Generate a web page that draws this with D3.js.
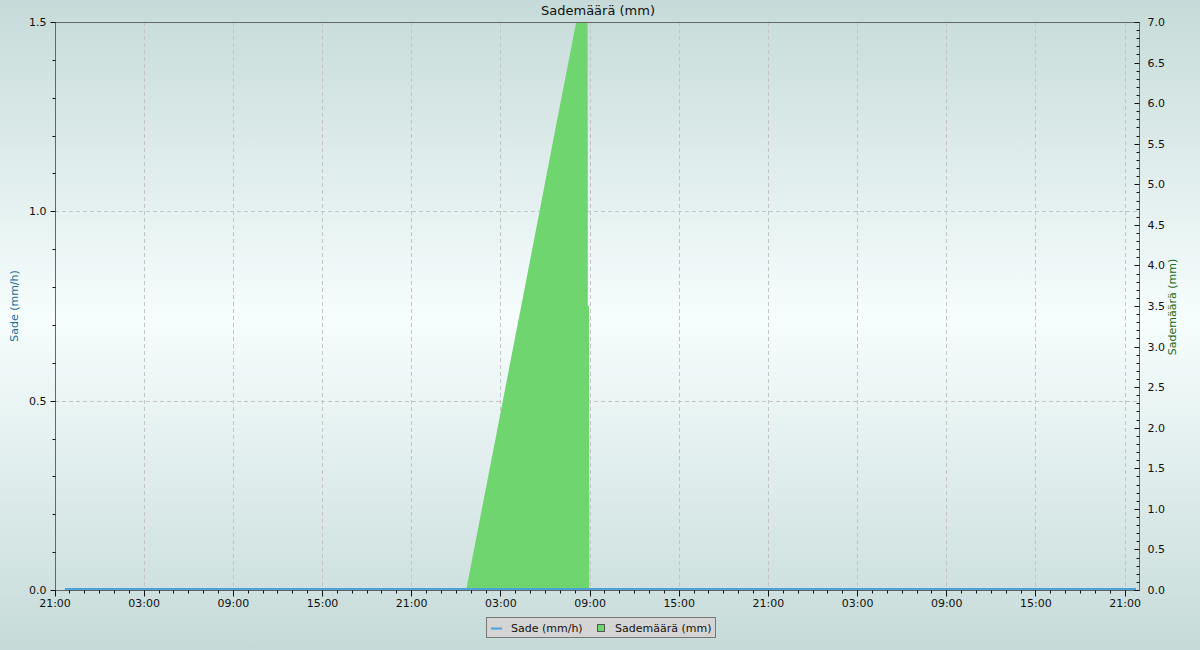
<!DOCTYPE html>
<meta charset="utf-8">
<style>
  body { margin: 0; }
  text { font-family: "DejaVu Sans", sans-serif; font-size: 11px; fill: #111; }
  .title { font-size: 13px; text-anchor: middle; }
  .grid line { stroke: #c4c4c4; stroke-dasharray: 4,3; }
</style>
<script src="https://cdn.jsdelivr.net/npm/d3@7"></script>
<body>
<script>
  var w = 1200, h = 650;
  var pLeft = 55, pRight = 1139, pTop = 22, pBottom = 590;

  var parse = d3.timeParse("%Y-%m-%d %H:%M");
  var domainStart = "2024-01-01 21:00";
  var domainEnd = "2024-01-04 21:56";

  // Sade (mm/h) - stays at zero the whole period
  var rateTimes = ["2024-01-01 21:40", "2024-01-02 21:00", "2024-01-03 21:00", "2024-01-04 21:44"];
  var rateValues = [0, 0, 0, 0];

  // Sademäärä (mm) - cumulative
  var sumTimes = ["2024-01-01 21:40", "2024-01-03 00:40", "2024-01-03 01:40", "2024-01-03 02:40",
                  "2024-01-03 03:40", "2024-01-03 04:40", "2024-01-03 05:40", "2024-01-03 06:40",
                  "2024-01-03 07:40", "2024-01-03 08:40", "2024-01-03 08:50", "2024-01-03 08:51",
                  "2024-01-03 08:56", "2024-01-03 08:57", "2024-01-04 21:44"];
  var sumValues = [0, 0, 0.95, 1.89, 2.84, 3.78, 4.73, 5.68, 6.62, 7.57, 7.74, 3.5, 3.5, 0, 0];

  var leftTicks = [0, 0.5, 1.0, 1.5];
  var rightTicks = [0, 0.5, 1, 1.5, 2, 2.5, 3, 3.5, 4, 4.5, 5, 5.5, 6, 6.5, 7];

  var svg = d3.select("body").append("svg").attr("width", w).attr("height", h);

  var defs = svg.append("defs");
  var grad = defs.append("linearGradient")
    .attr("id", "bg").attr("x1", 0).attr("y1", 0).attr("x2", 0).attr("y2", 1);
  grad.append("stop").attr("offset", "0%").attr("stop-color", "#c6dbd9");
  grad.append("stop").attr("offset", "49%").attr("stop-color", "#f6fdfd");
  grad.append("stop").attr("offset", "100%").attr("stop-color", "#c6dbd9");
  defs.append("clipPath").attr("id", "plot")
    .append("rect").attr("x", pLeft).attr("y", pTop).attr("width", pRight - pLeft).attr("height", pBottom - pTop);

  svg.append("rect").attr("width", w).attr("height", h).attr("fill", "url(#bg)");

  var x = d3.scaleTime().domain([parse(domainStart), parse(domainEnd)]).range([pLeft, pRight]);
  var yL = d3.scaleLinear().domain([0, 1.5]).range([pBottom, pTop]);
  var yR = d3.scaleLinear().domain([0, 7]).range([pBottom, pTop]);

  var hours = x.ticks(d3.timeHour.every(1));
  var majors = hours.filter(function (d) { return d.getHours() % 6 === 3; });

  // grid
  var grid = svg.append("g").attr("class", "grid");
  grid.selectAll(".v").data(majors.filter(function (d) { return x(d) > pLeft + 1; }))
    .enter().append("line")
    .attr("x1", function (d) { return Math.floor(x(d)) + 0.5; })
    .attr("x2", function (d) { return Math.floor(x(d)) + 0.5; })
    .attr("y1", pTop).attr("y2", pBottom);
  grid.selectAll(".h").data([0.5, 1.0])
    .enter().append("line")
    .attr("x1", pLeft).attr("x2", pRight)
    .attr("y1", function (d) { return Math.round(yL(d)) + 0.5; })
    .attr("y2", function (d) { return Math.round(yL(d)) + 0.5; });

  // cumulative area
  var sumData = sumTimes.map(function (t, i) { return { t: parse(t), v: sumValues[i] }; });
  svg.append("path").datum(sumData)
    .attr("clip-path", "url(#plot)")
    .attr("fill", "#6fd66f")
    .attr("d", d3.area().x(function (d) { return x(d.t); }).y0(yR(0)).y1(function (d) { return yR(d.v); }));

  // rate line
  var rateData = rateTimes.map(function (t, i) { return { t: parse(t), v: rateValues[i] }; });
  svg.append("path").datum(rateData)
    .attr("fill", "none").attr("stroke", "#4aa2d8").attr("stroke-width", 2)
    .attr("transform", "translate(0,-1)")
    .attr("d", d3.line().x(function (d) { return x(d.t); }).y(function (d) { return yL(d.v); }));

  // frame
  svg.append("rect").attr("x", pLeft + 0.5).attr("y", pTop + 0.5)
    .attr("width", pRight - pLeft).attr("height", pBottom - pTop)
    .attr("fill", "none").attr("stroke", "#666");

  // x axis
  var xg = svg.append("g").attr("transform", "translate(0," + (pBottom + 0.5) + ")");
  xg.selectAll("line").data(hours).enter().append("line")
    .attr("x1", function (d) { return Math.floor(x(d)) + 0.5; })
    .attr("x2", function (d) { return Math.floor(x(d)) + 0.5; })
    .attr("y1", 0)
    .attr("y2", function (d) { return d.getHours() % 6 === 3 ? 6 : 3; })
    .attr("stroke", "#111");
  xg.selectAll("text").data(majors).enter().append("text")
    .attr("x", function (d) { return x(d); })
    .attr("y", 16).attr("text-anchor", "middle")
    .text(d3.timeFormat("%H:%M"));

  // left axis
  var minorL = d3.range(0, 16).map(function (i) { return i / 10; });
  var lg = svg.append("g").attr("transform", "translate(" + (pLeft + 0.5) + ",0)");
  lg.selectAll("line").data(minorL).enter().append("line")
    .attr("y1", function (d) { return Math.round(yL(d)) + 0.5; })
    .attr("y2", function (d) { return Math.round(yL(d)) + 0.5; })
    .attr("x1", function (d, i) { return i % 5 === 0 ? -5 : -3; }).attr("x2", 0)
    .attr("stroke", "#111");
  lg.selectAll("text").data(leftTicks).enter().append("text")
    .attr("x", -9).attr("y", function (d) { return yL(d) + 4; })
    .attr("text-anchor", "end")
    .text(d3.format(".1f"));

  // right axis
  var minorR = d3.range(0, 71).map(function (i) { return i / 10; });
  var rg = svg.append("g").attr("transform", "translate(" + (pRight + 0.5) + ",0)");
  rg.selectAll("line").data(minorR).enter().append("line")
    .attr("y1", function (d) { return Math.round(yR(d)) + 0.5; })
    .attr("y2", function (d) { return Math.round(yR(d)) + 0.5; })
    .attr("x1", function (d, i) { return i % 5 === 0 ? -5 : -3; }).attr("x2", 0)
    .attr("stroke", "#111");
  rg.selectAll("text").data(rightTicks).enter().append("text")
    .attr("x", 8).attr("y", function (d) { return yR(d) + 4; })
    .text(d3.format(".1f"));

  // titles
  svg.append("text").attr("class", "title").attr("x", 598).attr("y", 15).text("Sademäärä (mm)");
  svg.append("text").attr("transform", "translate(18,306) rotate(-90)")
    .attr("text-anchor", "middle").style("fill", "#1a6c9c").text("Sade (mm/h)");
  svg.append("text").attr("transform", "translate(1176,307) rotate(-90)")
    .attr("text-anchor", "middle").style("fill", "#186818").text("Sademäärä (mm)");

  // legend
  var leg = svg.append("g");
  leg.append("rect").attr("x", 486.5).attr("y", 617.5).attr("width", 229).attr("height", 20)
    .attr("fill", "#d4d4d4").attr("stroke", "#777");
  leg.append("line").attr("x1", 491).attr("x2", 502).attr("y1", 628.5).attr("y2", 628.5)
    .attr("stroke", "#4aa2d8").attr("stroke-width", 2);
  leg.append("text").attr("x", 511).attr("y", 632).text("Sade (mm/h)");
  leg.append("rect").attr("x", 597.5).attr("y", 624.5).attr("width", 7).attr("height", 7)
    .attr("fill", "#6fd66f").attr("stroke", "#555");
  leg.append("text").attr("x", 615).attr("y", 632).text("Sademäärä (mm)");
</script>
</body>
